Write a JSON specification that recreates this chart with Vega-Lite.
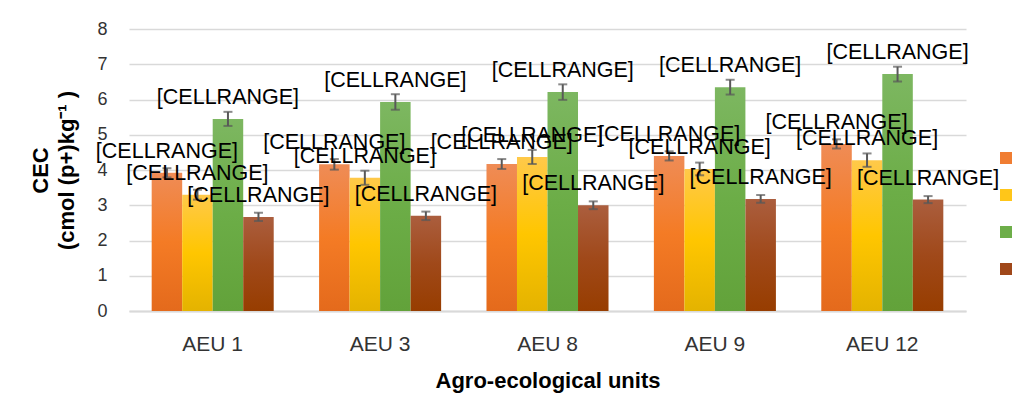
{
  "$schema": "https://vega.github.io/schema/vega-lite/v6.json",
  "width": 837,
  "height": 282,
  "autosize": {"type": "none"},
  "padding": {"left": 129, "top": 29, "right": 59, "bottom": 107},
  "background": "white",
  "config": {"view": {"stroke": null}, "font": "Liberation Sans"},
  "data": {
    "values": [
      {"aeu": "AEU 1", "series": "A", "value": 3.92, "lo": 3.79, "hi": 4.05, "label": "[CELLRANGE]"},
      {"aeu": "AEU 1", "series": "B", "value": 3.3, "lo": 3.16, "hi": 3.44, "label": "[CELLRANGE]"},
      {"aeu": "AEU 1", "series": "C", "value": 5.45, "lo": 5.25, "hi": 5.65, "label": "[CELLRANGE]"},
      {"aeu": "AEU 1", "series": "D", "value": 2.67, "lo": 2.55, "hi": 2.79, "label": "[CELLRANGE]"},
      {"aeu": "AEU 3", "series": "A", "value": 4.16, "lo": 4.01, "hi": 4.31, "label": "[CELLRANGE]"},
      {"aeu": "AEU 3", "series": "B", "value": 3.78, "lo": 3.58, "hi": 3.98, "label": "[CELLRANGE]"},
      {"aeu": "AEU 3", "series": "C", "value": 5.93, "lo": 5.71, "hi": 6.15, "label": "[CELLRANGE]"},
      {"aeu": "AEU 3", "series": "D", "value": 2.7, "lo": 2.58, "hi": 2.82, "label": "[CELLRANGE]"},
      {"aeu": "AEU 8", "series": "A", "value": 4.17, "lo": 4.03, "hi": 4.31, "label": "[CELLRANGE]"},
      {"aeu": "AEU 8", "series": "B", "value": 4.37, "lo": 4.17, "hi": 4.57, "label": "[CELLRANGE]"},
      {"aeu": "AEU 8", "series": "C", "value": 6.21, "lo": 5.99, "hi": 6.43, "label": "[CELLRANGE]"},
      {"aeu": "AEU 8", "series": "D", "value": 3.0, "lo": 2.89, "hi": 3.11, "label": "[CELLRANGE]"},
      {"aeu": "AEU 9", "series": "A", "value": 4.4, "lo": 4.27, "hi": 4.53, "label": "[CELLRANGE]"},
      {"aeu": "AEU 9", "series": "B", "value": 4.03, "lo": 3.85, "hi": 4.21, "label": "[CELLRANGE]"},
      {"aeu": "AEU 9", "series": "C", "value": 6.35, "lo": 6.14, "hi": 6.56, "label": "[CELLRANGE]"},
      {"aeu": "AEU 9", "series": "D", "value": 3.18, "lo": 3.07, "hi": 3.29, "label": "[CELLRANGE]"},
      {"aeu": "AEU 12", "series": "A", "value": 4.74, "lo": 4.61, "hi": 4.87, "label": "[CELLRANGE]"},
      {"aeu": "AEU 12", "series": "B", "value": 4.28, "lo": 4.09, "hi": 4.47, "label": "[CELLRANGE]"},
      {"aeu": "AEU 12", "series": "C", "value": 6.72, "lo": 6.51, "hi": 6.93, "label": "[CELLRANGE]"},
      {"aeu": "AEU 12", "series": "D", "value": 3.16, "lo": 3.06, "hi": 3.26, "label": "[CELLRANGE]"}
    ]
  },
  "encoding": {
    "x": {
      "field": "aeu",
      "type": "nominal",
      "sort": null,
      "scale": {"paddingInner": 0.271, "paddingOuter": 0.1355},
      "axis": {
        "title": "Agro-ecological units",
        "labelAngle": 0,
        "labelFontSize": 21,
        "labelColor": "#333333",
        "labelPadding": 22,
        "ticks": false,
        "domainColor": "#D9D9D9",
        "domainWidth": 2,
        "titleFontSize": 22,
        "titleFontWeight": "bold",
        "titleColor": "#000000",
        "titlePadding": 16
      }
    },
    "xOffset": {"field": "series", "type": "nominal", "scale": {"domain": ["A", "B", "C", "D"], "paddingInner": 0, "paddingOuter": 0}},
    "y": {
      "field": "value",
      "type": "quantitative",
      "scale": {"domain": [0, 8]},
      "axis": {
        "title": ["CEC", "(cmol (p+)kg⁻¹ )"],
        "values": [0, 1, 2, 3, 4, 5, 6, 7, 8],
        "domain": false,
        "ticks": false,
        "gridColor": "#D9D9D9",
        "gridWidth": 1.5,
        "labelFontSize": 18,
        "labelColor": "#333333",
        "labelPadding": 22,
        "titleFontSize": 22,
        "titleFontWeight": "bold",
        "titleColor": "#000000",
        "titleLineHeight": 26,
        "titlePadding": 18
      }
    }
  },
  "layer": [
    {
      "transform": [{"filter": "datum.series === 'A'"}],
      "mark": {"type": "bar", "fill": {"gradient": "linear", "x1": 0, "y1": 0, "x2": 0, "y2": 1, "stops": [{"offset": 0, "color": "#EF8C56"}, {"offset": 0.5, "color": "#F47B25"}, {"offset": 1, "color": "#E46A1C"}]}}
    },
    {
      "transform": [{"filter": "datum.series === 'B'"}],
      "mark": {"type": "bar", "fill": {"gradient": "linear", "x1": 0, "y1": 0, "x2": 0, "y2": 1, "stops": [{"offset": 0, "color": "#FFC94A"}, {"offset": 0.5, "color": "#FFC600"}, {"offset": 1, "color": "#E4B300"}]}}
    },
    {
      "transform": [{"filter": "datum.series === 'C'"}],
      "mark": {"type": "bar", "fill": {"gradient": "linear", "x1": 0, "y1": 0, "x2": 0, "y2": 1, "stops": [{"offset": 0, "color": "#7DB761"}, {"offset": 0.5, "color": "#6CAD47"}, {"offset": 1, "color": "#62A23A"}]}}
    },
    {
      "transform": [{"filter": "datum.series === 'D'"}],
      "mark": {"type": "bar", "fill": {"gradient": "linear", "x1": 0, "y1": 0, "x2": 0, "y2": 1, "stops": [{"offset": 0, "color": "#AB5E3E"}, {"offset": 0.5, "color": "#A0491A"}, {"offset": 1, "color": "#973D00"}]}}
    },
    {
      "transform": [{"filter": "false"}],
      "mark": {"type": "bar"},
      "encoding": {
        "fill": {
          "field": "series",
          "type": "nominal",
          "scale": {"domain": ["A", "B", "C", "D"], "range": ["#F07D32", "#FFC619", "#6DAE49", "#A0481A"]},
          "legend": {
            "orient": "none",
            "legendX": 871,
            "legendY": 123,
            "title": null,
            "symbolType": "square",
            "symbolSize": 144,
            "symbolStrokeWidth": 0,
            "labelExpr": "''",
            "labelFontSize": 12,
            "rowPadding": 25,
            "padding": 0
          }
        }
      }
    },
    {
      "mark": {"type": "rule", "color": "#595959", "strokeWidth": 2},
      "encoding": {
        "y": {"field": "lo", "type": "quantitative"},
        "y2": {"field": "hi"}
      }
    },
    {
      "mark": {"type": "tick", "color": "#595959", "thickness": 2, "size": 9},
      "encoding": {"y": {"field": "lo", "type": "quantitative"}}
    },
    {
      "mark": {"type": "tick", "color": "#595959", "thickness": 2, "size": 9},
      "encoding": {"y": {"field": "hi", "type": "quantitative"}}
    },
    {
      "mark": {"type": "text", "dy": -21, "fontSize": 21.5, "baseline": "middle", "color": "#000000"},
      "encoding": {
        "text": {"field": "label"}
      }
    }
  ]
}
